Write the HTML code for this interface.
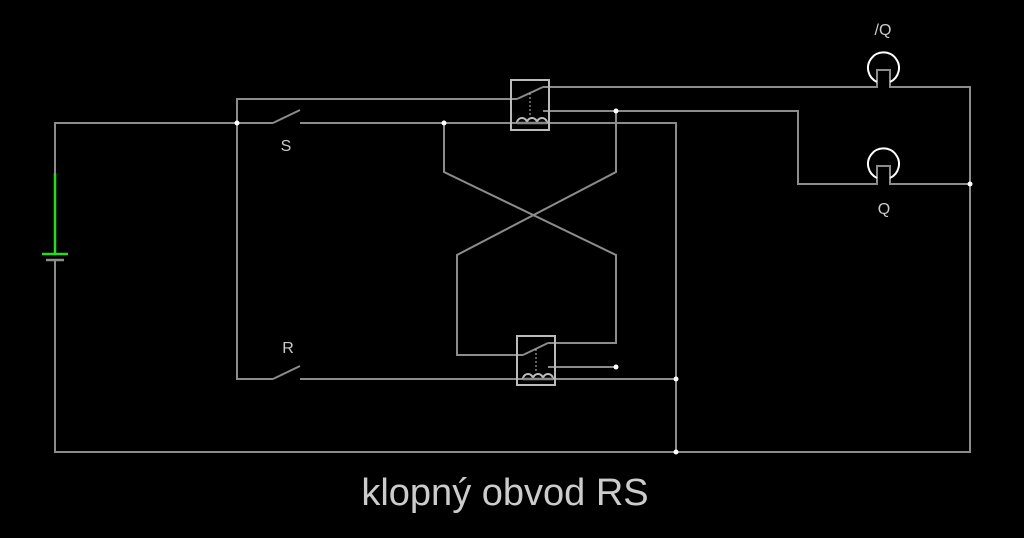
<!DOCTYPE html>
<html><head><style>body{margin:0;background:#000}</style></head><body>
<svg width="1024" height="538" xmlns="http://www.w3.org/2000/svg" style="display:block">
<g stroke="#8c8c8c" stroke-width="2" fill="none">
<polyline points="55,173 55,123 273,123"/>
<polyline points="300,123 676,123 676,452"/>
<polyline points="55,260 55,452 970,452 970,87 890,87 890,70 877,70 877,87 550,87"/>
<polyline points="237,123 237,99 511,99"/>
<polyline points="237,123 237,379 273,379"/>
<line x1="300" y1="379" x2="676" y2="379"/>
<polyline points="543,111 798,111 798,184 877,184 877,166 890,166 890,184 970,184"/>
<polyline points="444,123 444,172 616,255 616,343 556,343"/>
<polyline points="616,111 616,172 457,255 457,355 523,355"/>
<line x1="548" y1="367" x2="616" y2="367"/>
<line x1="273" y1="123" x2="300" y2="110"/>
<line x1="273" y1="379" x2="300" y2="366"/>
<line x1="511" y1="99" x2="517" y2="99"/>
<line x1="517" y1="99" x2="543" y2="87"/>
<line x1="543" y1="87" x2="550" y2="87"/>
<line x1="523" y1="355" x2="548" y2="343"/>
<line x1="548" y1="343" x2="556" y2="343"/>
<line x1="46" y1="260" x2="64" y2="260" stroke-width="2.5"/>
</g>
<g stroke="#bbb" stroke-width="2" fill="none">
<rect x="511" y="80" width="38" height="50"/>
<rect x="517" y="336" width="38" height="49"/>
<path d="M517,123 a5,5 0 0 1 10,0 a5,5 0 0 1 10,0 a5,5 0 0 1 10,0"/>
<path d="M523,379 a5,5 0 0 1 10,0 a5,5 0 0 1 10,0 a5,5 0 0 1 10,0"/>
<line x1="530" y1="93" x2="530" y2="117" stroke-dasharray="2,2" stroke-width="1"/>
<line x1="536" y1="349" x2="536" y2="373" stroke-dasharray="2,2" stroke-width="1"/>
</g>
<g stroke="#fff" stroke-width="2" fill="none">
<path d="M877,82 A15.5,15.5 0 1 1 890,82"/>
<path d="M877,178 A15.5,15.5 0 1 1 890,178"/>
</g>
<g stroke="#888" stroke-width="2.5">
<line x1="517" y1="123" x2="547" y2="123"/><line x1="523" y1="379" x2="553" y2="379"/>
</g>
<line x1="55" y1="173" x2="55" y2="254" stroke="#22dd22" stroke-width="2.5"/>
<line x1="42" y1="254" x2="68" y2="254" stroke="#22dd22" stroke-width="2.5"/>
<g fill="#fff">
<circle cx="237" cy="123" r="2.5"/><circle cx="444" cy="123" r="2.5"/><circle cx="616" cy="111" r="2.5"/>
<circle cx="616" cy="367" r="2.5"/><circle cx="676" cy="379" r="2.5"/><circle cx="676" cy="452" r="2.5"/>
<circle cx="970" cy="184" r="2.5"/>
</g>
<g fill="#ccc" font-family="Liberation Sans, sans-serif" font-size="16" text-anchor="middle">
<text x="286" y="151">S</text><text x="288" y="353">R</text>
<text x="883" y="35">/Q</text><text x="884" y="214">Q</text>
<text x="505" y="505" font-size="38">klopný obvod RS</text>
</g>
</svg>
</body></html>
